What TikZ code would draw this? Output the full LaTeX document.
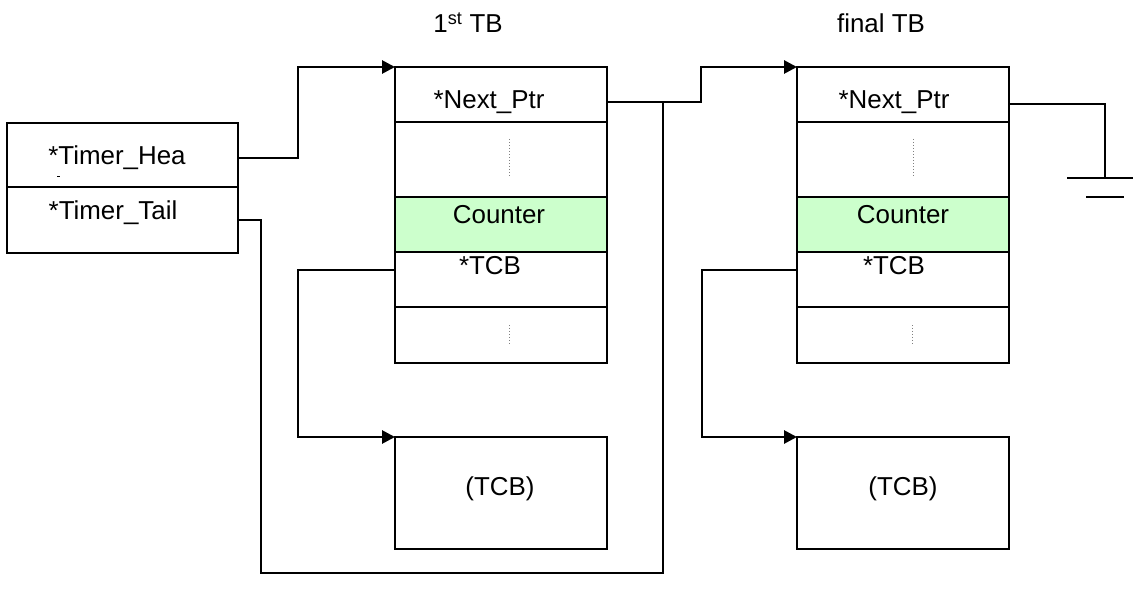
\documentclass[tikz,border=0pt]{standalone}
\usepackage{fontspec}
\setmainfont{Liberation Sans}
\usetikzlibrary{arrows.meta}
\definecolor{cntgreen}{HTML}{CCFFCC}
\tikzset{
  cell/.style={draw, line width=2.8bp, inner sep=0pt, outer sep=0pt, anchor=north west, minimum width=212bp},
  lcell/.style={draw, line width=2.8bp, inner sep=0pt, outer sep=0pt, anchor=north west, minimum width=231bp},
  tcbbox/.style={draw, line width=2.2bp, inner sep=0pt, outer sep=0pt, anchor=north west, minimum width=212bp, minimum height=112bp},
  lbl/.style={anchor=base, inner sep=0pt, font=\fontsize{26}{30}\selectfont},
  wire/.style={line width=2.8bp},
  arr/.style={wire, -{Triangle[length=13bp,width=13bp]}},
  dots/.style={gray, dotted, line width=1bp}
}
\begin{document}
\begin{tikzpicture}[x=1bp,y=-1bp]
\useasboundingbox (0,0) rectangle (1133,603);
% left box
\node[lcell, minimum height=64bp] (L1) at (7,123) {};
\node[lcell, minimum height=66bp] (L2) at (7,187) {};
\node[lbl] (tH) at (117,165) {*Timer\_Hea};
\node[lbl] (tT) at (113,220) {*Timer\_Tail};
\draw[line width=1bp] (57,177) -- (60,177);
% titles
\node[lbl] (t1) at (468,33) {1\textsuperscript{st} TB};
\node[lbl] (t2) at (881,33) {final TB};
% first TB
\node[cell, minimum height=55bp] (a1) at (395,67) {};
\node[cell, minimum height=75bp] (a2) at (395,122) {};
\node[cell, minimum height=55bp, fill=cntgreen] (a3) at (395,197) {};
\node[cell, minimum height=55bp] (a4) at (395,252) {};
\node[cell, minimum height=56bp] (a5) at (395,307) {};
\node[lbl] at (489,109) {*Next\_Ptr};
\node[lbl] at (499,224) {Counter};
\node[lbl] at (490,275) {*TCB};
\draw[dots] (509,139) -- (509,177);
\draw[dots] (509,325) -- (509,345);
\node[tcbbox] (c1) at (395,437) {};
\node[lbl] at (500,495) {(TCB)};
% final TB
\node[cell, minimum height=55bp] (b1) at (797,67) {};
\node[cell, minimum height=75bp] (b2) at (797,122) {};
\node[cell, minimum height=55bp, fill=cntgreen] (b3) at (797,197) {};
\node[cell, minimum height=55bp] (b4) at (797,252) {};
\node[cell, minimum height=56bp] (b5) at (797,307) {};
\node[lbl] at (894,109) {*Next\_Ptr};
\node[lbl] at (903,224) {Counter};
\node[lbl] at (894,275) {*TCB};
\draw[dots] (913,139) -- (913,177);
\draw[dots] (912,325) -- (912,345);
\node[tcbbox] (c2) at (797,437) {};
\node[lbl] at (903,495) {(TCB)};
% connectors
\coordinate (hb) at (298,158);
\draw[arr] (hb -| L1.east) -- (hb) |- (a1.north west);
\coordinate (n1) at (701,102);
\draw[arr] (n1 -| a1.east) -- (n1) |- (b1.north west);
\coordinate (tb) at (261,220);
\coordinate (tc) at (663,573);
\draw[wire] (tb -| L2.east) -- (tb) |- (tc) -- (tc |- n1);
\coordinate (p1) at (298,270);
\draw[arr] (p1 -| a4.west) -- (p1) |- (c1.north west);
\coordinate (p2) at (702,270);
\draw[arr] (p2 -| b4.west) -- (p2) |- (c2.north west);
% ground
\coordinate (g) at (1105,178);
\coordinate (n2) at (1105,104);
\draw[wire] (n2 -| b1.east) -- (n2) -- (g);
\draw[wire] (1067,178) -- (1133,178);
\draw[wire] (1086,197) -- (1124,197);
\end{tikzpicture}
\end{document}
